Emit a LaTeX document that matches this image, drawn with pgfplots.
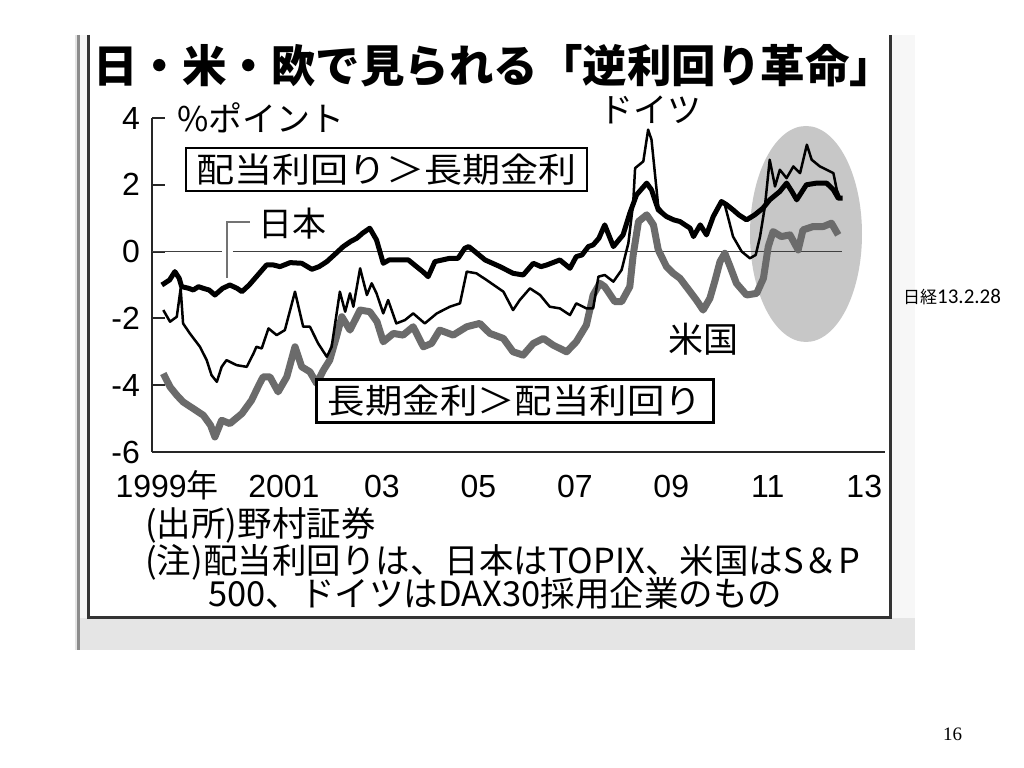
\documentclass[border=0pt]{standalone}
\usepackage{graphicx}
\usepackage{pgfplots}
\usepackage{pgfplotstable}
\pgfplotsset{compat=1.18}
\usepackage{fontspec}
\setmainfont{Liberation Sans}
\newfontfamily\jp{Noto Sans CJK JP}
\newfontfamily\calfont{Carlito}
\newfontfamily\tmsfont{Liberation Serif}
\newcommand{\fs}[1]{\fontsize{#1bp}{#1bp}\selectfont}

% Japan (TOPIX) : dividend yield minus long-term rate, %pt
\pgfplotstableread{
t v
1998.94 -1.00
1999.10 -0.85
1999.21 -0.60
1999.30 -0.80
1999.35 -1.05
1999.50 -1.10
1999.59 -1.15
1999.70 -1.05
1999.80 -1.10
1999.92 -1.15
2000.04 -1.30
2000.20 -1.10
2000.35 -1.00
2000.50 -1.10
2000.60 -1.20
2000.75 -1.00
2000.90 -0.75
2001.11 -0.40
2001.25 -0.40
2001.39 -0.45
2001.60 -0.33
2001.84 -0.35
2002.05 -0.53
2002.20 -0.45
2002.36 -0.30
2002.55 -0.05
2002.70 0.15
2002.85 0.30
2002.98 0.40
2003.10 0.55
2003.25 0.70
2003.39 0.35
2003.53 -0.35
2003.65 -0.25
2003.80 -0.25
2004.05 -0.25
2004.22 -0.45
2004.35 -0.60
2004.46 -0.75
2004.60 -0.30
2004.91 -0.20
2005.08 -0.20
2005.22 0.10
2005.30 0.15
2005.43 0.00
2005.64 -0.25
2005.95 -0.45
2006.22 -0.65
2006.43 -0.70
2006.64 -0.35
2006.80 -0.45
2006.92 -0.40
2007.19 -0.25
2007.40 -0.50
2007.53 -0.15
2007.65 -0.10
2007.78 0.15
2007.88 0.20
2008.00 0.40
2008.12 0.80
2008.30 0.15
2008.50 0.50
2008.64 1.15
2008.78 1.70
2008.99 2.05
2009.09 1.85
2009.23 1.25
2009.40 1.05
2009.55 0.95
2009.68 0.90
2009.89 0.70
2009.96 0.45
2010.10 0.80
2010.23 0.50
2010.37 1.05
2010.54 1.50
2010.65 1.40
2010.78 1.25
2010.90 1.10
2011.06 0.95
2011.23 1.10
2011.40 1.30
2011.54 1.55
2011.75 1.80
2011.89 2.05
2012.00 1.80
2012.10 1.55
2012.30 2.00
2012.51 2.05
2012.72 2.05
2012.86 1.85
2012.96 1.60
2013.05 1.60
}\jpdata

% Germany (DAX30)
\pgfplotstableread{
t v
1998.97 -1.75
1999.11 -2.10
1999.25 -1.95
1999.33 -1.10
1999.38 -2.15
1999.52 -2.45
1999.73 -2.85
1999.87 -3.25
1999.97 -3.70
2000.08 -3.90
2000.18 -3.45
2000.28 -3.25
2000.49 -3.40
2000.70 -3.45
2000.84 -3.05
2000.90 -2.85
2001.01 -2.90
2001.15 -2.30
2001.32 -2.50
2001.49 -2.35
2001.70 -1.20
2001.87 -2.25
2002.01 -2.25
2002.18 -2.75
2002.36 -3.15
2002.46 -2.85
2002.63 -1.20
2002.74 -1.80
2002.84 -1.25
2002.91 -1.65
2003.05 -0.50
2003.19 -1.30
2003.29 -0.95
2003.39 -1.25
2003.53 -1.85
2003.63 -1.45
2003.80 -2.15
2003.98 -2.05
2004.15 -1.85
2004.39 -2.15
2004.64 -1.85
2004.91 -1.65
2005.12 -1.55
2005.26 -0.60
2005.46 -0.65
2005.67 -0.85
2006.02 -1.20
2006.22 -1.75
2006.36 -1.45
2006.57 -1.10
2006.78 -1.30
2006.98 -1.65
2007.19 -1.70
2007.40 -1.90
2007.53 -1.55
2007.74 -1.70
2007.88 -1.70
2007.99 -0.75
2008.12 -0.70
2008.30 -0.90
2008.47 -0.55
2008.61 0.25
2008.71 1.45
2008.75 2.50
2008.92 2.70
2009.02 3.65
2009.09 3.35
2009.16 2.35
2009.23 1.35
2009.40 1.05
2009.55 0.95
2009.68 0.90
2009.89 0.70
2009.96 0.45
2010.10 0.80
2010.23 0.55
2010.37 1.05
2010.50 1.40
2010.60 1.45
2010.70 0.90
2010.78 0.45
2010.96 0.00
2011.13 -0.20
2011.25 -0.10
2011.34 0.45
2011.44 1.35
2011.54 2.75
2011.65 1.95
2011.75 2.45
2011.89 2.20
2012.03 2.55
2012.17 2.35
2012.31 3.20
2012.41 2.75
2012.58 2.55
2012.72 2.45
2012.86 2.35
2012.93 1.85
2013.00 1.60
}\dedata

% USA (S&P 500)
\pgfplotstableread{
t v
1998.97 -3.65
1999.11 -4.05
1999.25 -4.30
1999.38 -4.50
1999.59 -4.70
1999.80 -4.90
1999.95 -5.20
2000.04 -5.55
2000.18 -5.05
2000.35 -5.15
2000.60 -4.85
2000.80 -4.45
2000.95 -4.00
2001.04 -3.75
2001.18 -3.75
2001.35 -4.20
2001.53 -3.75
2001.70 -2.85
2001.84 -3.45
2002.01 -3.60
2002.15 -3.95
2002.29 -3.55
2002.42 -3.25
2002.56 -2.55
2002.67 -1.95
2002.84 -2.35
2003.05 -1.75
2003.25 -1.80
2003.40 -2.10
2003.53 -2.70
2003.74 -2.45
2003.94 -2.50
2004.15 -2.25
2004.36 -2.85
2004.53 -2.75
2004.70 -2.35
2004.98 -2.50
2005.26 -2.25
2005.53 -2.15
2005.74 -2.45
2006.02 -2.60
2006.22 -3.00
2006.43 -3.10
2006.64 -2.75
2006.85 -2.60
2007.05 -2.80
2007.33 -3.00
2007.53 -2.70
2007.74 -2.20
2007.88 -1.30
2008.02 -0.95
2008.12 -1.05
2008.33 -1.50
2008.47 -1.50
2008.64 -1.05
2008.71 -0.10
2008.82 0.90
2008.99 1.10
2009.13 0.80
2009.23 0.05
2009.40 -0.45
2009.54 -0.65
2009.68 -0.80
2009.89 -1.20
2010.02 -1.45
2010.16 -1.75
2010.30 -1.40
2010.40 -0.90
2010.51 -0.30
2010.61 -0.05
2010.72 -0.45
2010.85 -0.95
2011.06 -1.30
2011.27 -1.25
2011.41 -0.80
2011.51 0.15
2011.61 0.60
2011.78 0.45
2011.96 0.50
2012.13 0.05
2012.23 0.65
2012.44 0.75
2012.65 0.75
2012.82 0.85
2012.96 0.50
}\usdata

\begin{document}
\begin{tikzpicture}
\useasboundingbox (0,0) rectangle (1024bp,768bp);
\fill[white] (0,0) rectangle (1024bp,768bp);
\begin{scope}[x=1bp,y=-1bp,shift={(0,768bp)}]
  \fill[black!10] (75,35) rectangle (915,650);
  \fill[black!3] (890,35) rectangle (915,618);
  \fill[black!4] (80,35) rectangle (88,618);
  \fill[white] (88,35) rectangle (890,618);
  \draw[black!45, line width=3bp] (78,35) -- (78,650);
  \draw[black!80, line width=3bp] (88,35) -- (88,618) -- (890,618) -- (890,35);
  \fill[black!22] (806,234) ellipse [x radius=56, y radius=108];
\end{scope}

\begin{axis}[
  at={(152bp,316bp)}, anchor=south west,
  scale only axis, width=733bp, height=334bp,
  xmin=1998.736, xmax=2013.93, ymin=-6, ymax=4,
  axis x line*=bottom, axis y line*=left,
  axis line style={line width=2bp, black!85},
  tick align=inside,
  major tick length=13bp, minor tick length=9bp,
  ytick={-6,-4,-2,0,2,4}, yticklabels={-6,-4,-2,0,2,4},
  ytick style={line width=2bp, black!85},
  xtick={1999.05,2001.47,2003.5,2005.5,2007.5,2009.5,2011.5,2013.5},
  xticklabels={1999{\jp 年},2001,03,05,07,09,11,13},
  xtick style={draw=none},
  minor xtick={2000,2001,...,2013},
  minor x tick style={line width=2bp, black!85, yshift=-9bp},
  yticklabel style={anchor=east, inner sep=0pt, xshift=-12bp, font=\fs{32}},
  xticklabel style={anchor=base, inner sep=0pt, yshift=-46bp, font=\fs{32}},
  clip=false,
]
\addplot[black!75, line width=1.5bp, forget plot] coordinates {(1998.736,0) (2000.19,0)};
\addplot[black!75, line width=1.5bp, forget plot] coordinates {(2000.41,0) (2013.04,0)};
\addplot[black!58, line width=7bp, line join=round] table[x=t,y=v] {\usdata};
\addplot[black, line width=2.5bp, line join=round] table[x=t,y=v] {\dedata};
\addplot[black, line width=5bp, line join=round] table[x=t,y=v] {\jpdata};
\end{axis}

\begin{scope}[x=1bp,y=-1bp,shift={(0,768bp)}]
  \node[font={\jp\bfseries\fs{44.5}}] at (494,66) {日・米・欧で見られる「逆利回り革命」};
  \node[anchor=west, inner sep=0pt, font={\jp\fs{34}}] at (177,118) {\%ポイント};
  \node[font={\jp\fs{34}}] at (650,110) {ドイツ};
  \node[draw, line width=2.5bp, minimum width=401bp, minimum height=43bp, inner sep=0pt, fill=white, font={\jp\fs{34}}] at (386.5,169.5) {\scalebox{1.12}[1]{配当利回り＞長期金利}};
  \node[draw, line width=2.5bp, minimum width=397bp, minimum height=43bp, inner sep=0pt, fill=white, font={\jp\fs{34}}] at (515,401) {\scalebox{1.1}[1]{長期金利＞配当利回り}};
  \node[font={\jp\fs{34}}] at (292,223.5) {日本};
  \draw[black!55, line width=2bp] (227,278) -- (227,222) -- (250,222);
  \node[font={\jp\fs{35}}] at (703,339) {米国};
  \node[anchor=west, inner sep=0pt, font={\jp\fs{34.5}}] at (145,525) {(出所)野村証券};
  \node[anchor=west, inner sep=0pt, font={\jp\fs{34.5}}] at (145,562) {(注)配当利回りは、日本はTOPIX、米国はS＆P};
  \node[anchor=west, inner sep=0pt, font={\jp\fs{34.5}}] at (208,593) {500、ドイツはDAX30採用企業のもの};
  \node[anchor=west, inner sep=0pt] at (903,297) {{\jp\fs{17}日経}{\calfont\fs{21}13.2.28}};
  \node[font={\tmsfont\fs{19}}] at (952.5,734) {16};
\end{scope}
\end{tikzpicture}
\end{document}
